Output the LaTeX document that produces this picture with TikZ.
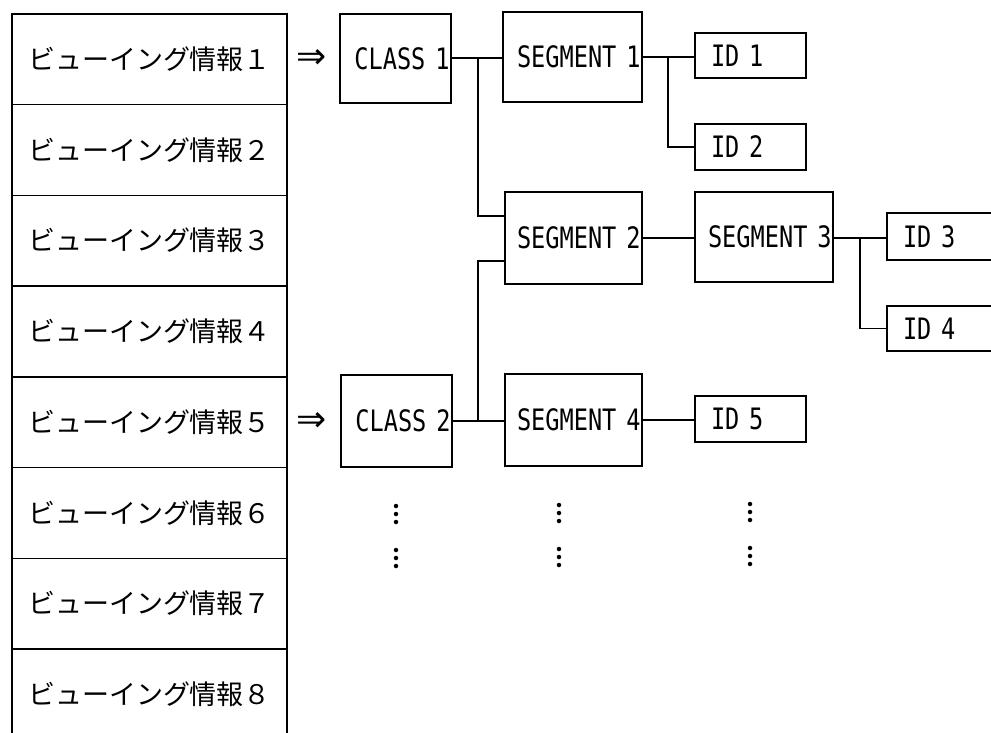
\documentclass[tikz,border=0pt]{standalone}
\usepackage{fontspec}
\newfontfamily\jpfont{Noto Sans CJK JP}
\newfontfamily\monofont[FakeStretch=0.80]{DejaVu Sans Mono}
\newfontfamily\symfont{DejaVu Sans}
\begin{document}
\begin{tikzpicture}[x=1pt,y=-1pt,
  line width=1.4pt,
  rowbox/.style={draw, line width=1.4pt, minimum width=275pt, minimum height=90.7pt, inner sep=0pt,
    font=\jpfont\fontsize{27pt}{30pt}\selectfont},
  segbox/.style={draw, line width=1.4pt, inner xsep=1.5pt, inner ysep=0pt, align=right,
    font=\monofont\fontsize{29.5pt}{32pt}\selectfont},
  idbox/.style={draw, line width=1.4pt, inner xsep=16pt, inner ysep=0pt, align=left,
    font=\monofont\fontsize{29.5pt}{32pt}\selectfont},
  arrowsym/.style={font=\symfont\fontsize{36pt}{38pt}\selectfont, inner sep=0pt},
  link/.style={draw, line width=1.4pt},
  dot/.style={circle, fill=black, inner sep=0pt, minimum size=4.5pt}
]
\useasboundingbox (0,0) rectangle (991,733);
\clip (0,0) rectangle (991,733);

% left column
\foreach \i/\d in {1/１,2/２,3/３,4/４,5/５,6/６,7/７,8/８}{
  \node[rowbox] (row\i) at (149.5,{14+90.7*(\i-0.5)}) {ビューイング情報\d};
}

% arrows
\node[arrowsym] (arr1) at (311.5,59) {⇒};
\node[arrowsym] (arr2) at (311.5,422) {⇒};

% class boxes
\node[segbox, text width=108pt, minimum height=89pt] (cls1) at (395.5,58.5) {CLASS 1};
\node[segbox, text width=108pt, minimum height=92pt] (cls2) at (396.5,421) {CLASS 2};

% segment boxes
\node[segbox, text width=136pt, minimum height=90pt] (seg1) at (572.5,57) {SEGMENT 1};
\node[segbox, text width=134pt, minimum height=92pt] (seg2) at (573.5,238) {SEGMENT 2};
\node[segbox, text width=135pt, minimum height=90pt] (seg3) at (764,237) {SEGMENT 3};
\node[segbox, text width=134pt, minimum height=92pt] (seg4) at (573.5,420) {SEGMENT 4};

% id boxes
\node[idbox, text width=79pt, minimum height=45pt] (id1) at (750.5,55.5) {ID 1};
\node[idbox, text width=79pt, minimum height=46pt] (id2) at (750.5,147) {ID 2};
\node[idbox, text width=88pt, minimum height=47pt] (id3) at (947,236.5) {ID 3};
\node[idbox, text width=88pt, minimum height=45pt] (id4) at (947,328.5) {ID 4};
\node[idbox, text width=79pt, minimum height=46pt] (id5) at (750.5,419) {ID 5};

% junction coordinates
\coordinate (j1) at (478,58);
\coordinate (j2) at (478,421);
\coordinate (j3) at (668,57);
\coordinate (j4) at (860,238);
\coordinate (s2a) at ([yshift=22pt]seg2.west);
\coordinate (s2b) at ([yshift=-23pt]seg2.west);

% connectors
\draw[link] (cls1.east |- j1) -- (j1) -- (j1 -| seg1.west);
\draw[link] (j1) |- (s2a);
\draw[link] (cls2.east |- j2) -- (j2) -- (j2 -| seg4.west);
\draw[link] (j2) |- (s2b);
\draw[link] (seg1.east |- j3) -- (j3) -- (j3 -| id1.west);
\draw[link] (j3) |- (id2.west);
\draw[link] (seg2.east |- j4) -- (seg3.west |- j4);
\draw[link] (seg3.east |- j4) -- (j4) -- (j4 -| id3.west);
\draw[link] (j4) |- (id4.west);
\draw[link] (seg4.east) -- (seg4.east -| id5.west);

% vertical ellipses
\foreach \x/\y/\n in {396/506/a,559/505/b,750/504/c}{
  \foreach \k in {0,1,2}{
    \node[dot] (d\n\k) at (\x,{\y+8*\k}) {};
    \node[dot] (e\n\k) at (\x,{\y+44+8*\k}) {};
  }
}
\end{tikzpicture}
\end{document}
